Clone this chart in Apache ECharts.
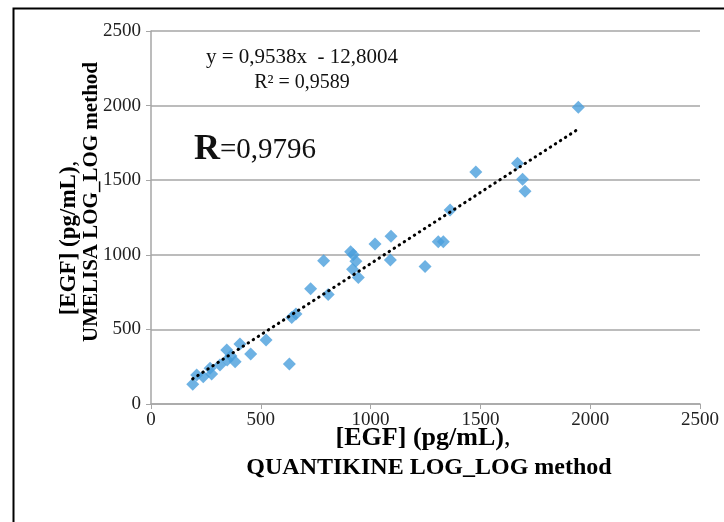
<!DOCTYPE html>
<html>
<head>
<meta charset="utf-8">
<script src="https://cdn.jsdelivr.net/npm/echarts@6/dist/echarts.min.js"></script>
<style>
html,body{margin:0;padding:0;background:#fff;}
#chart{width:724px;height:522px;}
</style>
</head>
<body>
<div id="chart"></div>
<script>
// QUANTIKINE (x) vs UMELISA (y), pg/mL
var quantikine = [190, 208, 238, 269, 276, 314, 345, 347, 364, 383, 405, 454, 524,
  630, 641, 660, 727, 786, 807, 909, 921, 933, 918, 944, 1020, 1093, 1090, 1248,
  1308, 1331, 1362, 1479, 1669, 1692, 1703, 1946];
var umelisa = [132, 194, 183, 239, 201, 261, 362, 295, 322, 284, 402, 335, 429,
  268, 580, 603, 773, 960, 734, 1021, 1001, 956, 903, 848, 1072, 1124, 965, 922,
  1088, 1088, 1300, 1555, 1613, 1506, 1426, 1989];
var slope = 0.9538, intercept = -12.8004;
var axisTicks = [0, 500, 1000, 1500, 2000, 2500];

var points = quantikine.map(function (x, i) { return [x, umelisa[i]]; });
var xMin = Math.min.apply(null, quantikine), xMax = Math.max.apply(null, quantikine);
var trend = [[xMin, slope * xMin + intercept], [xMax, slope * xMax + intercept]];

var serif = '"Liberation Serif", "Times New Roman", serif';
var plain = function (v) { return String(v); };
var chart = echarts.init(document.getElementById('chart'));
chart.setOption({
  animation: false,
  backgroundColor: '#fff',
  grid: { left: 151, right: 24, top: 31, bottom: 118 },
  xAxis: {
    type: 'value', min: axisTicks[0], max: axisTicks[axisTicks.length - 1], interval: 500,
    axisLine: { lineStyle: { color: '#a6a6a6', width: 1.5 } },
    axisTick: { show: true, length: 5, lineStyle: { color: '#a6a6a6' } },
    axisLabel: { fontFamily: serif, fontSize: 19, color: '#222', margin: 7, formatter: plain },
    splitLine: { show: false }
  },
  yAxis: {
    type: 'value', min: axisTicks[0], max: axisTicks[axisTicks.length - 1], interval: 500,
    axisLine: { show: true, lineStyle: { color: '#a6a6a6', width: 1.5 } },
    axisTick: { show: true, length: 5, lineStyle: { color: '#a6a6a6' } },
    axisLabel: { fontFamily: serif, fontSize: 19, color: '#222', margin: 10, formatter: plain },
    splitLine: { lineStyle: { color: '#a6a6a6', width: 1.5 } }
  },
  series: [
    {
      type: 'scatter', data: points, symbol: 'diamond', symbolSize: [13, 13],
      itemStyle: { color: '#4a9fdc' }, z: 3
    },
    {
      type: 'line', data: trend, showSymbol: false, symbol: 'none',
      lineStyle: { color: '#000', width: 3, type: [0.5, 5.5], cap: 'round' }, z: 4
    }
  ],
  graphic: [
    { type: 'rect', left: 11, top: 6, shape: { width: 760, height: 560 },
      style: { fill: 'none', stroke: '#000', lineWidth: 2 }, silent: true },
    { type: 'text', x: 302, y: 57, style: { text: 'y = 0,9538x  - 12,8004', font: '21px ' + serif, fill: '#111', textAlign: 'center', textVerticalAlign: 'middle' } },
    { type: 'text', x: 302, y: 83, style: { text: 'R² = 0,9589', font: '20px ' + serif, fill: '#111', textAlign: 'center', textVerticalAlign: 'middle' } },
    { type: 'text', x: 194, y: 150, style: {
        text: '{b|R}{n|=0,9796}', textVerticalAlign: 'middle',
        rich: { b: { fontFamily: serif, fontSize: 36, fontWeight: 'bold', fill: '#111' },
                n: { fontFamily: serif, fontSize: 29, fill: '#111' } } } },
    { type: 'text', x: 423, y: 438, style: {
        text: '{b|[EGF] (pg/mL)}{n|,}', textAlign: 'center', textVerticalAlign: 'middle',
        rich: { b: { fontFamily: serif, fontSize: 26, fontWeight: 'bold', fill: '#000' },
                n: { fontFamily: serif, fontSize: 26, fill: '#000' } } } },
    { type: 'text', x: 429, y: 468, style: { text: 'QUANTIKINE LOG_LOG method', font: 'bold 24px ' + serif, fill: '#000', textAlign: 'center', textVerticalAlign: 'middle' } },
    { type: 'text', x: 69, y: 238, rotation: Math.PI / 2, style: {
        text: '{b|[EGF] (pg/mL)}{n|,}', textAlign: 'center', textVerticalAlign: 'middle',
        rich: { b: { fontFamily: serif, fontSize: 23, fontWeight: 'bold', fill: '#000' },
                n: { fontFamily: serif, fontSize: 23, fill: '#000' } } } },
    { type: 'text', x: 92, y: 202, rotation: Math.PI / 2, style: { text: 'UMELISA LOG_LOG method', font: 'bold 21px ' + serif, fill: '#000', textAlign: 'center', textVerticalAlign: 'middle' } }
  ]
});
</script>
</body>
</html>
